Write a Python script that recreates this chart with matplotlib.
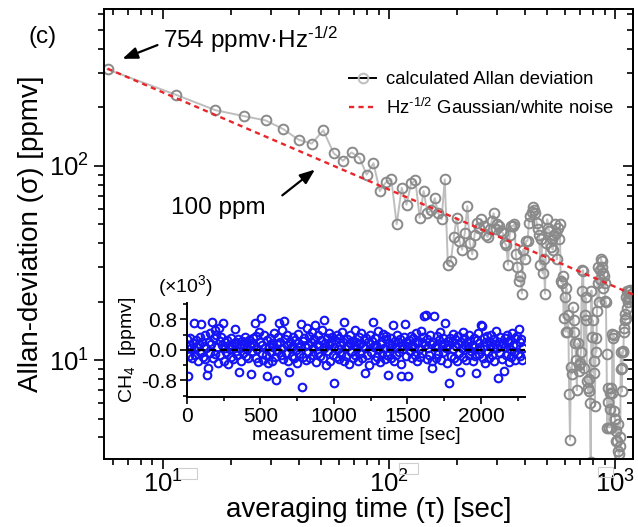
import numpy as np
import matplotlib.pyplot as plt
from matplotlib.lines import Line2D
from matplotlib.patches import Rectangle
from matplotlib.ticker import MultipleLocator, NullFormatter, FormatStrFormatter

plt.rcParams['font.family'] = ['Liberation Sans', 'DejaVu Sans']
plt.rcParams['mathtext.fontset'] = 'custom'
plt.rcParams['mathtext.rm'] = 'Liberation Sans'
plt.rcParams['mathtext.it'] = 'Liberation Sans:italic'
plt.rcParams['mathtext.default'] = 'regular'

# sampling interval of the CH4 record [sec]
sample_interval = 5.7
# white-noise coefficient [ppmv Hz^-1/2]
white_coef = 754

# Allan deviation [ppmv] for averaging times n * sample_interval, n = 1..206
allan_dev = [313, 232, 193, 180, 171, 154, 136, 130, 152, 116,
             106, 117, 110, 90, 103, 74, 82, 85, 50, 77,
             63, 81, 84, 54, 74, 57, 59, 68, 57, 53,
             85, 31, 32.5, 43, 54, 41, 37, 45, 62, 40,
             35, 44, 51, 48, 53, 49, 44, 43, 47, 52,
             57, 47, 50, 49, 46, 45, 40, 39, 31, 44,
             49, 49, 50, 35, 30, 25.6, 27, 22, 37, 33,
             41, 41, 51, 55, 58, 61, 59, 57, 51, 47,
             44, 31, 42, 28, 33, 22, 40, 53, 48, 46,
             38, 42, 37, 44, 50, 45, 33, 48, 42, 50,
             25.6, 25, 27, 16.5, 21, 14, 23.5, 14, 17, 6.7,
             3.9, 9.2, 8.5, 18.7, 16, 14, 12.2, 10, 7, 12.2,
             9.4, 8.8, 9.7, 11, 22.8, 29, 28.8, 9.1, 17, 21,
             16, 7.8, 7.2, 6.9, 8, 6.0, 3.0, 22.8, 13.2, 16,
             8.6, 9.9, 5.8, 13, 11, 17.9, 25, 30, 20, 26,
             29, 33.3, 32.5, 30, 28, 23.4, 27, 25, 20.2, 19.8,
             10.8, 4.5, 7.2, 6.1, 4.5, 6.8, 5.6, 4.5, 7.2, 6.8,
             13.6, 13, 13.4, 5.5, 5.0, 5.0, 4.3, 3.85, 3.85, 4.7,
             3.4, 3.3, 2.9, 4.0, 3.6, 11, 9.0, 6.9, 9.1, 11.2,
             11, 14, 14.7, 17.3, 16, 16.5, 21, 18.6, 22.8, 20.6,
             20, 22.8, 21, 23, 22.8, 22]

# CH4 deviation record (x10^3 ppmv), one value per sample
ch4 = [0.28, -0.68, 0.12, -0.15, 0.31, 0.05, -0.22, 0.18, 0.70, 0.02,
       -0.12, 0.25, 0.08, -0.30, 0.15, 0.33, -0.05, 0.68, 0.20, -0.18,
       0.10, -0.25, 0.38, 0.04, -0.65, -0.48, 0.22, -0.08, 0.45, 0.16,
       0.74, -0.20, 0.30, 0.52, -0.10, 0.40, 0.07, -0.33, 0.58, 0.24,
       -0.14, 0.35, 0.12, 0.70, -0.28, 0.05, 0.20, -0.06, 0.26, -0.38,
       0.14, 0.02, -0.18, 0.32, 0.09, -0.24, 0.18, 0.55, -0.02, 0.22,
       -0.12, 0.28, -0.57, 0.06, 0.15, -0.30, 0.24, -0.08, 0.12, 0.34,
       -0.16, 0.20, 0.03, -0.22, 0.27, 0.10, -0.64, 0.18, -0.04, 0.30,
       0.14, 0.70, -0.20, 0.36, 0.02, -0.32, 0.48, 0.21, 0.84, -0.10,
       0.12, -0.26, 0.40, 0.06, -0.14, -0.68, 0.25, -0.35, 0.11, 0.30,
       -0.06, 0.18, -0.28, 0.08, 0.44, -0.18, -0.79, 0.15, -0.02, 0.35,
       0.70, 0.22, -0.12, 0.52, 0.05, -0.24, 0.76, 0.28, -0.08, 0.38,
       0.12, -0.30, -0.57, 0.20, 0.04, -0.15, 0.33, 0.10, -0.22, 0.26,
       0.00, -0.34, 0.18, 0.42, -0.10, 0.07, 0.68, -0.98, 0.24, -0.18,
       0.30, 0.09, -0.26, 0.57, 0.14, -0.05, 0.36, -0.20, 0.22, 0.48,
       -0.12, 0.04, 0.28, 0.66, -0.32, 0.16, -0.08, 0.40, 0.10, -0.16,
       0.25, 0.52, -0.22, 0.06, 0.79, 0.18, -0.39, 0.30, -0.04, 0.44,
       0.12, -0.28, 0.20, 0.35, -0.14, -0.87, 0.08, 0.26, -0.18, 0.38,
       0.02, -0.24, 0.30, 0.14, -0.10, 0.46, 0.22, -0.30, 0.74, 0.05,
       -0.16, 0.28, 0.10, -0.36, 0.18, 0.40, -0.06, 0.24, -0.20, 0.12,
       0.52, -0.12, 0.20, 0.04, -0.28, 0.34, 0.16, -0.08, 0.45, -0.22,
       0.10, 0.26, -0.61, 0.06, 0.32, -0.14, 0.20, -0.40, 0.15, 0.38,
       -0.05, 0.24, 0.74, 0.08, -0.26, 0.30, 0.12, -0.18, 0.50, 0.02,
       -0.32, 0.22, 0.15, -0.10, 0.42, 0.06, -0.24, 0.28, 0.36, -0.12,
       -0.66, 0.18, 0.04, -0.20, 0.32, 0.12, 0.66, -0.30, 0.24, 0.08,
       -0.14, 0.40, 0.20, -0.06, 0.28, -0.36, -0.68, 0.14, 0.02, 0.34,
       0.68, -0.16, 0.22, 0.10, -0.68, 0.26, -0.04, 0.36, 0.14, -0.22,
       0.30, 0.06, -0.12, 0.44, 0.18, -0.28, 0.24, 0.02, -0.18, 0.50,
       0.20, -0.08, 0.34, 0.89, 0.12, 0.92, -0.24, 0.28, 0.05, -0.14,
       0.40, 0.16, -0.30, -0.47, 0.22, 0.89, 0.08, -0.20, 0.36, 0.14,
       -0.10, 0.26, 0.48, -0.26, 0.10, 0.32, -0.06, 0.18, 0.70, 0.04,
       -0.34, 0.24, 0.12, -0.87, 0.30, -0.16, 0.20, 0.42, 0.02, -0.22,
       0.28, 0.10, -0.30, 0.36, 0.16, -0.08, -0.57, 0.22, 0.04, 0.46,
       -0.18, 0.30, 0.12, -0.26, 0.20, 0.06, -0.14, 0.38, 0.24, -0.04,
       0.14, -0.28, 0.32, 0.08, -0.16, -0.60, 0.26, 0.44, -0.10, 0.18,
       0.02, 0.66, 0.63, -0.22, 0.30, 0.10, -0.34, 0.20, 0.36, -0.06,
       0.24, -0.20, 0.12, 0.40, -0.12, 0.06, 0.28, -0.30, 0.16, 0.50,
       0.04, -0.74, 0.22, -0.08, 0.34, 0.10, -0.24, 0.18, -0.55, 0.30,
       0.08, -0.14, 0.38, 0.20, -0.32, 0.26, 0.02, -0.18, 0.44, 0.14,
       -0.06, 0.30, -0.26, 0.12, 0.36, -0.10, 0.55, 0.20, -0.16, 0.28,
       -0.26, 0.06]

tau = sample_interval * np.arange(1, len(allan_dev) + 1)
t_meas = sample_interval * np.arange(len(ch4))
tau_fit = np.array([tau[0], 1300.0])

gray_mk = '#8a8a8a'
gray_ln = '#bebebe'
red = '#e8262b'
blue = '#1414f5'

fig = plt.figure(figsize=(6.38, 5.27), dpi=100)
ax = fig.add_axes([0.163, 0.129, 0.829, 0.854])

ax.plot(tau, allan_dev, '-', color=gray_ln, lw=1.4, marker='o', ms=7,
        mfc='none', mec=gray_mk, mew=1.4, zorder=2)
ax.plot(tau_fit, white_coef / np.sqrt(tau_fit), '--', color=red, lw=1.7,
        dashes=(2.2, 1.8), zorder=3)

ax.set_xscale('log')
ax.set_yscale('log')
ax.set_xlim(5.5, 1200)
ax.set_ylim(3.1, 640)

for s in ax.spines.values():
    s.set_linewidth(1.4)
ax.tick_params(which='both', direction='out', width=1.2, labelsize=18.5)
ax.tick_params(axis='x', pad=1.5)
ax.tick_params(which='major', length=7)
ax.tick_params(which='minor', length=4)
ax.xaxis.set_minor_formatter(NullFormatter())
ax.yaxis.set_minor_formatter(NullFormatter())

# mirrored ticks pointing inward on top and right
secx = ax.secondary_xaxis('top')
secy = ax.secondary_yaxis('right')
for sec, axis in ((secx, secx.xaxis), (secy, secy.yaxis)):
    sec.tick_params(which='both', direction='in', width=1.2, labelsize=0)
    sec.tick_params(which='major', length=7)
    sec.tick_params(which='minor', length=4)
    axis.set_major_formatter(NullFormatter())
    axis.set_minor_formatter(NullFormatter())
    for s in sec.spines.values():
        s.set_linewidth(1.4)

ax.set_xlabel('averaging time (\u03c4) [sec]', fontsize=20, labelpad=-1)
ax.set_ylabel('Allan-deviation (\u03c3) [ppmv]', fontsize=20, labelpad=4)

handles = [Line2D([], [], color='k', lw=1.4, marker='o', ms=7, mfc='none',
                  mec=gray_ln, mew=1.4),
           Line2D([], [], color=red, lw=1.7, ls='--', dashes=(2.2, 1.8))]
ax.legend(handles, ['calculated Allan deviation',
                    'Hz$^{\\text{-}1/2}$ Gaussian/white noise'],
          loc='upper left', bbox_to_anchor=(0.45, 0.878), frameon=False,
          fontsize=13.3, handlelength=1.45, handletextpad=0.55, labelspacing=0.5,
          borderaxespad=0)

fig.text(29 / 638, 1 - 37 / 527, '(c)', fontsize=17.5, va='center', ha='left')
ax.text(0.112, 0.931, '754 ppmv\u00b7Hz$^{\\text{-}1/2}$', transform=ax.transAxes,
        fontsize=17.5, va='center', ha='left')
ax.annotate('', xy=(0.030, 0.887), xycoords='axes fraction',
            xytext=(0.106, 0.922), textcoords='axes fraction',
            arrowprops=dict(arrowstyle='-|>,head_length=0.9,head_width=0.35',
                            color='k', lw=1.6))
ax.text(0.305, 0.558, '100 ppm', transform=ax.transAxes, fontsize=17.5,
        va='center', ha='right')
ax.annotate('', xy=(0.403, 0.647), xycoords='axes fraction',
            xytext=(0.333, 0.582), textcoords='axes fraction',
            arrowprops=dict(arrowstyle='-|>,head_length=0.9,head_width=0.35',
                            color='k', lw=1.6))

# faint empty boxes beside the x tick labels, as in the original
for x0, y0, w, h in ((178, 468, 19, 11), (399, 463, 19, 11), (598, 467, 15, 10)):
    fig.patches.append(Rectangle((x0 / 638, 1 - (y0 + h) / 527), w / 638, h / 527,
                                 transform=fig.transFigure, fill=False,
                                 ec='#cfcfcf', lw=0.8))

# inset: CH4 time series
axin = fig.add_axes([0.293, 0.247, 0.530, 0.178])
axin.plot(t_meas, ch4, 'o', ms=5.5, mfc='none', mec=blue, mew=1.5, zorder=2)
axin.axhline(0, color='k', ls='--', lw=1.6, dashes=(3, 2), zorder=3)
axin.set_xlim(0, 2300)
axin.set_ylim(-1.23, 1.23)
axin.spines['top'].set_visible(False)
axin.spines['right'].set_visible(False)
for s in ('left', 'bottom'):
    axin.spines[s].set_linewidth(1.4)
axin.xaxis.set_major_locator(MultipleLocator(500))
axin.xaxis.set_minor_locator(MultipleLocator(250))
axin.yaxis.set_major_locator(MultipleLocator(0.8))
axin.yaxis.set_minor_locator(MultipleLocator(0.4))
axin.yaxis.set_major_formatter(FormatStrFormatter('%.1f'))
axin.tick_params(which='both', direction='out', width=1.2, labelsize=15, pad=2)
axin.tick_params(which='major', length=5)
axin.tick_params(which='minor', length=3)
axin.set_xlabel('measurement time [sec]', fontsize=14, labelpad=1)
axin.set_ylabel('CH$_4$  [ppmv]', fontsize=14, labelpad=2)
axin.text(-0.086, 1.04, '(\u00d710$^3$)', transform=axin.transAxes, fontsize=14,
          ha='left', va='bottom')

fig.savefig('out.png', dpi=100)
